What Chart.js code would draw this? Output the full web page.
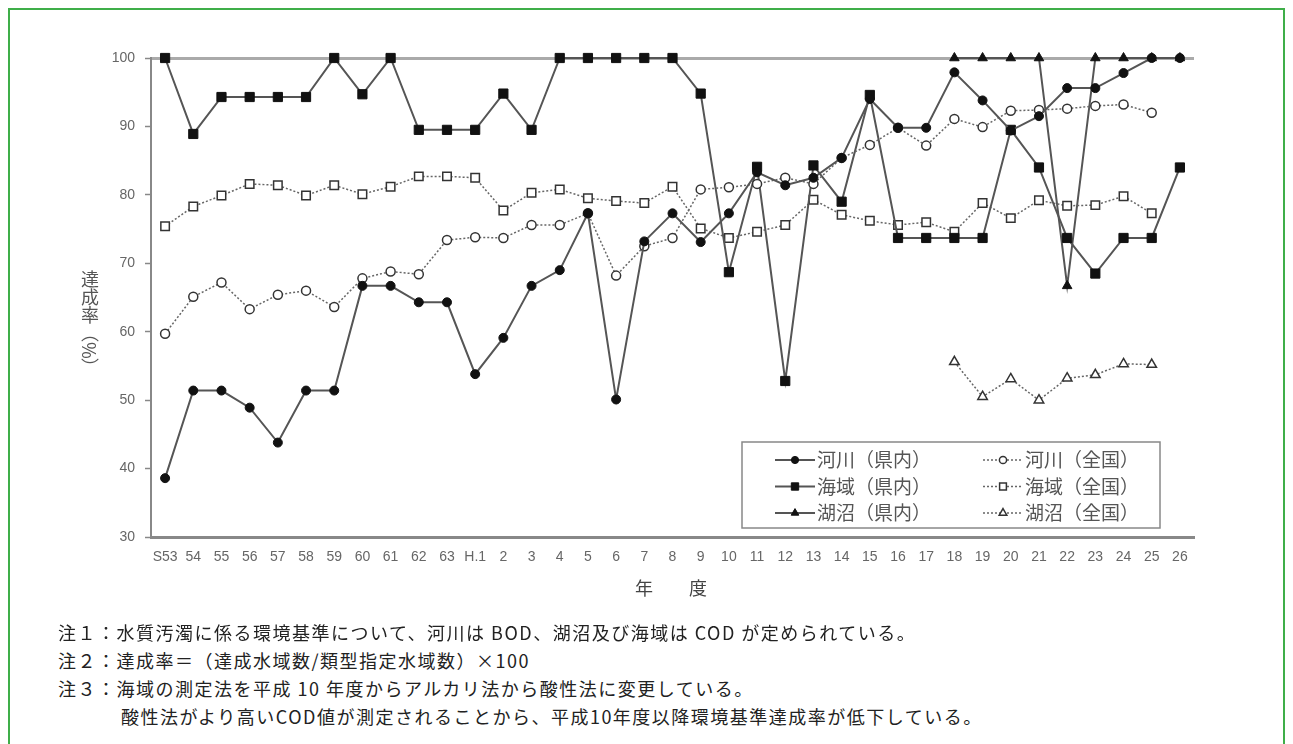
<!DOCTYPE html>
<html>
<head>
<meta charset="utf-8">
<script src="https://cdn.jsdelivr.net/npm/chart.js@4.4.1/dist/chart.umd.min.js"></script>
<style>
body { margin: 0; background: #fff; font-family: "Noto Sans CJK JP", sans-serif; }
#frame { position: absolute; left: 8px; top: 8px; width: 1277px; height: 760px; border: 2px solid #3fae49; box-sizing: border-box; }
#wrap { position: absolute; left: 0; top: 0; width: 1293px; height: 620px; }
.ytitle { position: absolute; left: 77px; top: 270px; writing-mode: vertical-rl; font-size: 18px; color: #555; }
.xtitle { position: absolute; left: 635px; top: 574px; font-size: 18px; color: #444; letter-spacing: 9px; white-space: nowrap; }
.note { position: absolute; left: 58px; font-size: 18px; letter-spacing: 1.5px; color: #222; white-space: nowrap; }
</style>
</head>
<body>
<div id="frame"></div>
<div id="wrap"><canvas id="myChart"></canvas></div>
<div class="ytitle">達成率（%）</div>
<div class="xtitle">年　度</div>
<div class="note" style="top:619px">注１：水質汚濁に係る環境基準について、河川は BOD、湖沼及び海域は COD が定められている。</div>
<div class="note" style="top:647px">注２：達成率＝（達成水域数/類型指定水域数）×100</div>
<div class="note" style="top:675px">注３：海域の測定法を平成 10 年度からアルカリ法から酸性法に変更している。</div>
<div class="note" style="top:703px; left:121px">酸性法がより高いCOD値が測定されることから、平成10年度以降環境基準達成率が低下している。</div>
<script>
// 年度
const labels = ['S53','54','55','56','57','58','59','60','61','62','63',
  'H.1','2','3','4','5','6','7','8','9','10','11','12','13','14','15','16','17','18','19','20','21','22','23','24','25','26'];

// 河川
const riverPref = [38.6,51.4,51.4,48.9,43.8,51.4,51.4,66.7,66.7,64.3,64.3,
  53.8,59.1,66.7,69.0,77.3,50.1,73.2,77.3,73.1,77.3,
  83.3,81.4,82.5,85.4,94.0,89.8,89.8,97.9,93.8,89.4,
  91.5,95.6,95.6,97.8,100,100];
const riverNat = [59.7,65.1,67.2,63.3,65.4,66.0,63.6,67.8,68.8,68.4,73.4,
  73.8,73.7,75.6,75.6,77.3,68.2,72.5,73.7,80.8,81.1,
  81.6,82.5,81.6,85.4,87.3,89.8,87.2,91.1,89.9,92.3,
  92.4,92.6,93.0,93.2,92.0,null];

// 海域
const seaPref = [100,88.9,94.3,94.3,94.3,94.3,100,94.7,100,89.5,89.5,
  89.5,94.8,89.5,100,100,100,100,100,94.8,68.7,
  84.1,52.8,84.3,79.0,94.6,73.7,73.7,73.7,73.7,89.5,
  84.0,73.7,68.5,73.7,73.7,84.0];
const seaNat = [75.4,78.3,79.9,81.6,81.4,79.9,81.4,80.1,81.2,82.7,82.7,
  82.5,77.7,80.3,80.8,79.5,79.1,78.8,81.2,75.1,73.7,
  74.6,75.6,79.3,77.1,76.2,75.6,76.0,74.6,78.8,76.6,
  79.2,78.4,78.5,79.8,77.3,null];

// 湖沼 (H18から)
const lakePref = [null,null,null,null,null,null,null,null,null,null,null,
  null,null,null,null,null,null,null,null,null,null,
  null,null,null,null,null,null,null,100,100,100,
  100,66.7,100,100,100,100];
const lakeNat = [null,null,null,null,null,null,null,null,null,null,null,
  null,null,null,null,null,null,null,null,null,null,
  null,null,null,null,null,null,null,55.6,50.5,53.1,
  50.0,53.2,53.7,55.3,55.2,null];

const seriesNames = ['河川（県内）','河川（全国）','海域（県内）','海域（全国）','湖沼（県内）','湖沼（全国）'];

function prefSet(name, data, style, r) {
  return { label: name, data: data, borderColor: '#555', borderWidth: 2,
    pointStyle: style, pointRadius: r, pointHoverRadius: r,
    pointBackgroundColor: '#111', pointBorderColor: '#111', pointBorderWidth: 1,
    spanGaps: false, clip: false, tension: 0 };
}
function natSet(name, data, style, r) {
  return { label: name, data: data, borderColor: '#666', borderWidth: 1.5, borderDash: [2, 2],
    pointStyle: style, pointRadius: r, pointHoverRadius: r,
    pointBackgroundColor: '#fff', pointBorderColor: '#333', pointBorderWidth: 1.5,
    spanGaps: false, clip: false, tension: 0 };
}

// 枠付き凡例
const boxLegend = {
  id: 'boxLegend',
  afterDatasetsDraw(chart) {
    const ctx = chart.ctx;
    const L = 742, T = 442, R = 1160, B = 528;
    ctx.save();
    ctx.fillStyle = '#fff';
    ctx.fillRect(L, T, R - L, B - T);
    ctx.strokeStyle = '#888';
    ctx.lineWidth = 1.5;
    ctx.strokeRect(L, T, R - L, B - T);
    chart.data.datasets.forEach((ds, i) => {
      const col = i % 2, row = Math.floor(i / 2);
      const x0 = col === 0 ? 775 : 983;
      const y = 460 + row * 26.5;
      ctx.strokeStyle = ds.borderColor;
      ctx.lineWidth = ds.borderWidth;
      ctx.setLineDash(ds.borderDash || []);
      ctx.beginPath();
      ctx.moveTo(x0, y);
      ctx.lineTo(x0 + 40, y);
      ctx.stroke();
      ctx.setLineDash([]);
      ctx.fillStyle = ds.pointBackgroundColor;
      ctx.strokeStyle = ds.pointBorderColor;
      ctx.lineWidth = ds.pointBorderWidth;
      Chart.helpers.drawPoint(ctx, { pointStyle: ds.pointStyle, radius: ds.pointRadius * 0.8, rotation: 0, borderWidth: ds.pointBorderWidth }, x0 + 20, y);
      ctx.fillStyle = '#555';
      ctx.font = '19px "Noto Sans CJK JP"';
      ctx.textBaseline = 'middle';
      ctx.textAlign = 'left';
      ctx.fillText(ds.label, x0 + 42, y);
    });
    ctx.restore();
  }
};

const ctx = document.getElementById('myChart');
const myChart = new Chart(ctx, {
  type: 'line',
  data: {
    labels: labels,
    datasets: [
      prefSet(seriesNames[0], riverPref, 'circle', 4.5),
      natSet(seriesNames[1], riverNat, 'circle', 4.5),
      prefSet(seriesNames[2], seaPref, 'rect', 6.5),
      natSet(seriesNames[3], seaNat, 'rect', 6),
      prefSet(seriesNames[4], lakePref, 'triangle', 5.5),
      natSet(seriesNames[5], lakeNat, 'triangle', 5.5)
    ]
  },
  options: {
    responsive: true,
    maintainAspectRatio: false,
    animation: false,
    layout: { padding: { left: 60, top: 58, right: 99, bottom: 38 } },
    plugins: { legend: { display: false }, tooltip: { enabled: false } },
    scales: {
      x: {
        offset: true,
        grid: { display: false, drawTicks: false },
        border: { color: '#888', width: 3 },
        ticks: { autoSkip: false, maxRotation: 0, padding: 12, color: '#666',
          font: { family: 'Liberation Sans', size: 14 } },
        afterFit: s => { s.height = 45; }
      },
      y: {
        min: 30, max: 100,
        grid: { color: c => c.tick.value === 100 ? '#aaa' : 'transparent', lineWidth: 3,
          tickColor: '#888', tickLength: 6, tickWidth: 1.5 },
        border: { color: '#888', width: 2 },
        ticks: { stepSize: 10, padding: 10, color: '#666',
          font: { family: 'Liberation Sans', size: 14 } },
        afterFit: s => { s.width = 91; }
      }
    }
  },
  plugins: [boxLegend]
});
</script>
</body>
</html>
